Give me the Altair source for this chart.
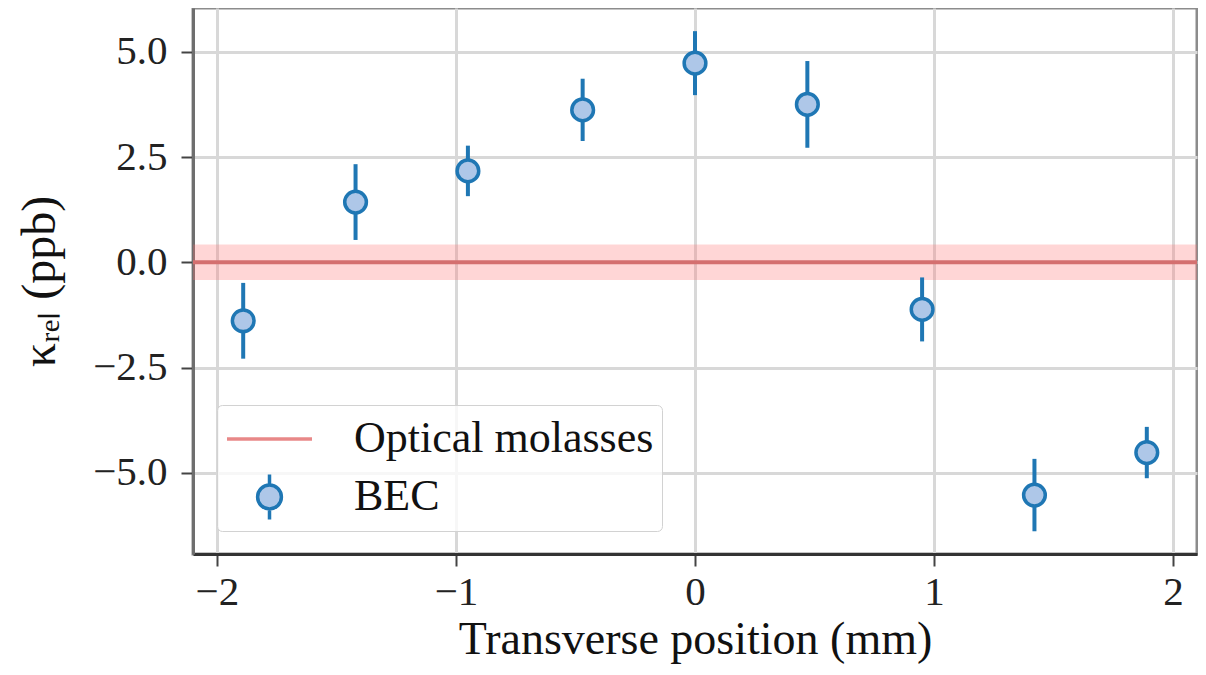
import altair as alt
import pandas as pd

# ---- data ----
positions = [-1.89, -1.42, -0.95, -0.47, 0.0, 0.47, 0.95, 1.42, 1.89]
kappa = [-1.39, 1.43, 2.17, 3.62, 4.73, 3.75, -1.12, -5.53, -4.52]
kappa_err = [0.90, 0.90, 0.60, 0.74, 0.76, 1.03, 0.76, 0.86, 0.61]

molasses_value = [0.0]
molasses_err = [0.42]

series_names = ["Optical molasses", "BEC"]
x_ticks = [-2, -1, 0, 1, 2]
y_ticks = [-5.0, -2.5, 0.0, 2.5, 5.0]

# ---- layout ----
W, H = 1004, 546
FONT = "Liberation Serif"

bec = pd.DataFrame({"x": positions, "y": kappa, "err": kappa_err})
mol = pd.DataFrame({"y": molasses_value, "err": molasses_err})
leg = pd.DataFrame({"x": [None, None], "y": [None, None], "series": series_names})

xscale = alt.Scale(domain=[-2.1, 2.1], nice=False, zero=False)
yscale = alt.Scale(domain=[-6.93, 6.04], nice=False, zero=False)

xaxis = alt.Axis(
    values=x_ticks, format="d", title="Transverse position (mm)",
    grid=True, gridColor="#d8d8d8", gridWidth=3,
    tickColor="#444", tickWidth=2, tickSize=12,
    labelFont=FONT, labelFontSize=41, labelColor="#222", labelPadding=6,
    labelFlush=False,
    titleFont=FONT, titleFontSize=46, titleFontWeight="normal", titleColor="#111",
    titlePadding=5, domainColor="#333", domainWidth=3,
)
yaxis = alt.Axis(
    values=y_ticks, format=".1f", title="κᵣₑₗ (ppb)",
    grid=True, gridColor="#d8d8d8", gridWidth=3,
    tickColor="#444", tickWidth=2, tickSize=12,
    labelFont=FONT, labelFontSize=41, labelColor="#222", labelPadding=14,
    labelFlush=False,
    titleFont=FONT, titleFontSize=48, titleFontWeight="normal", titleColor="#111",
    titlePadding=28, domainColor="#6e6e6e", domainWidth=3,
)

X = alt.X("x:Q", scale=xscale, axis=xaxis)
Y = alt.Y("y:Q", scale=yscale, axis=yaxis)

band = alt.Chart(mol).transform_calculate(
    lo="datum.y - datum.err", hi="datum.y + datum.err"
).mark_rect(color="#ff6b6b", opacity=0.28).encode(
    y=alt.Y("lo:Q", scale=yscale, axis=yaxis), y2="hi:Q",
    x=alt.value(0), x2=alt.value(W),
)

mol_line = alt.Chart(mol).mark_rule(color="#d46f6f", strokeWidth=4).encode(
    y=alt.Y("y:Q", scale=yscale, axis=yaxis)
)

errbars = alt.Chart(bec).transform_calculate(
    lo="datum.y - datum.err", hi="datum.y + datum.err"
).mark_rule(color="#1f77b4", strokeWidth=4).encode(
    x=X, y=alt.Y("lo:Q", scale=yscale, axis=yaxis), y2="hi:Q"
)

points = alt.Chart(bec).mark_point(
    shape="circle", filled=True, fill="#aec7e8", stroke="#1f77b4",
    strokeWidth=3.5, size=470, opacity=1,
).encode(x=X, y=Y)

LINE_PATH = "M-1,0L1,0"
BEC_PATH = ("M0,-0.53L0,-0.28M0,0.28L0,0.53"
            "M0.28,0A0.28,0.28,0,1,1,-0.28,0A0.28,0.28,0,1,1,0.28,0Z")

legend = alt.Legend(
    title=None, orient="none", legendX=24, legendY=397,
    labelFont=FONT, labelFontSize=44, labelColor="#111", labelOffset=40,
    labelLimit=500, padding=8, rowPadding=6, clipHeight=52,
    symbolSize=7225, symbolStrokeWidth=3.5, symbolOpacity=1,
    fillColor="rgba(255,255,255,0.8)", strokeColor="#d2d2d2", cornerRadius=5,
)

legend_layer = alt.Chart(leg).mark_point(filled=True).encode(
    x=X, y=Y,
    shape=alt.Shape("series:N", scale=alt.Scale(domain=series_names, range=[LINE_PATH, BEC_PATH]), legend=legend),
    fill=alt.Fill("series:N", scale=alt.Scale(domain=series_names, range=["transparent", "#aec7e8"]), legend=legend),
    stroke=alt.Stroke("series:N", scale=alt.Scale(domain=series_names, range=["#e88888", "#1f77b4"]), legend=legend),
)

chart = alt.layer(band, mol_line, errbars, points, legend_layer).properties(
    width=W, height=H,
    autosize=alt.AutoSizeParams(type="none"),
    padding={"left": 185, "top": 0, "right": 1, "bottom": 112},
).configure_view(stroke="#8c8c8c", strokeWidth=3)

chart.save("out.html", embed_options={"renderer": "svg", "actions": False})
